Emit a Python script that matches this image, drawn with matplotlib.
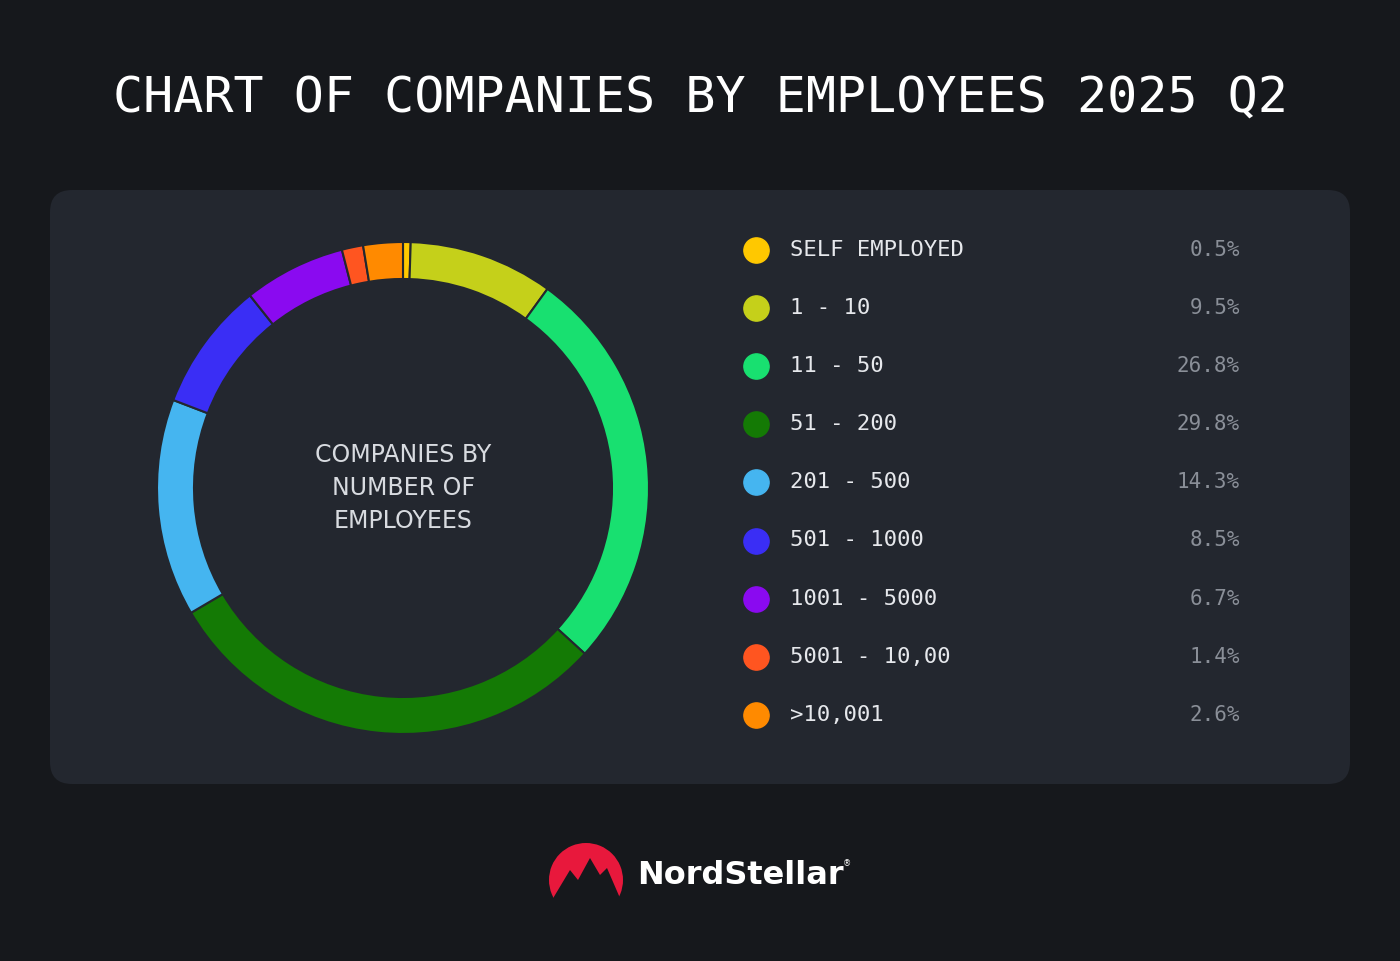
import matplotlib
matplotlib.use("Agg")
import matplotlib.pyplot as plt
from matplotlib.patches import FancyBboxPatch, Wedge, Polygon

categories = ["SELF EMPLOYED", "1 - 10", "11 - 50", "51 - 200", "201 - 500",
              "501 - 1000", "1001 - 5000", "5001 - 10,00", ">10,001"]
values = [0.5, 9.5, 26.8, 29.8, 14.3, 8.5, 6.7, 1.4, 2.6]
labels_pct = ["0.5%", "9.5%", "26.8%", "29.8%", "14.3%", "8.5%", "6.7%", "1.4%", "2.6%"]
colors = ["#FFC800", "#C5D01A", "#18E070", "#147A05", "#45B5F0",
          "#3A2EF5", "#8A0AF0", "#FF5520", "#FF8A00"]

W, H = 1400, 961
fig = plt.figure(figsize=(14, 9.61), dpi=100, facecolor="#16181c")
ax = fig.add_axes([0, 0, 1, 1])
Y = lambda y: H - y

ax.text(700, Y(98), "CHART OF COMPANIES BY EMPLOYEES 2025 Q2", color="white",
        fontsize=36, family="DejaVu Sans Mono", ha="center", va="center")

ax.add_patch(FancyBboxPatch((50, Y(784)), 1300, 594, boxstyle="round,pad=0,rounding_size=22",
                            fc="#23272f", ec="none"))

ax.pie(values, colors=colors, startangle=90, counterclock=False, center=(403, Y(488)),
       radius=246, wedgeprops=dict(width=37, edgecolor="#23272f", linewidth=1.5), frame=True)
ax.set_xlim(0, W); ax.set_ylim(0, H); ax.set_aspect("equal"); ax.axis("off")

ax.text(403, Y(488), "COMPANIES BY\nNUMBER OF\nEMPLOYEES", color="#d8dbe0", fontsize=17,
        ha="center", va="center", linespacing=1.45, family="DejaVu Sans")

for i, (c, p, col) in enumerate(zip(categories, labels_pct, colors)):
    y = Y(250 + i * 58.1)
    ax.scatter([756], [y], s=330, color=col, zorder=3)
    ax.text(790, y, c, color="#e6e8ec", fontsize=16,
            family="DejaVu Sans Mono", va="center", ha="left")
    ax.text(1240, y, p, color="#8a8f98", fontsize=15, family="DejaVu Sans Mono",
            va="center", ha="right")

# logo
ax.add_patch(Wedge((586, Y(880)), 37, 0, 360, fc="#E8183C", ec="none"))
ax.add_patch(Polygon([(549, Y(905)), (570, Y(870)), (578, Y(880)), (590, Y(858)),
                      (600, Y(875)), (607, Y(868)), (623, Y(905))], fc="#16181c", ec="none"))
ax.add_patch(Polygon([(549, Y(905)), (549, Y(930)), (623, Y(930)), (623, Y(905))], fc="#16181c", ec="none"))
ax.text(637, Y(876), "NordStellar", color="white", fontsize=23, fontweight="bold",
        va="center", ha="left", family="DejaVu Sans")
ax.text(843, Y(864), "®", color="white", fontsize=6, va="center", ha="left")

fig.savefig("out.png", dpi=100, facecolor=fig.get_facecolor())
